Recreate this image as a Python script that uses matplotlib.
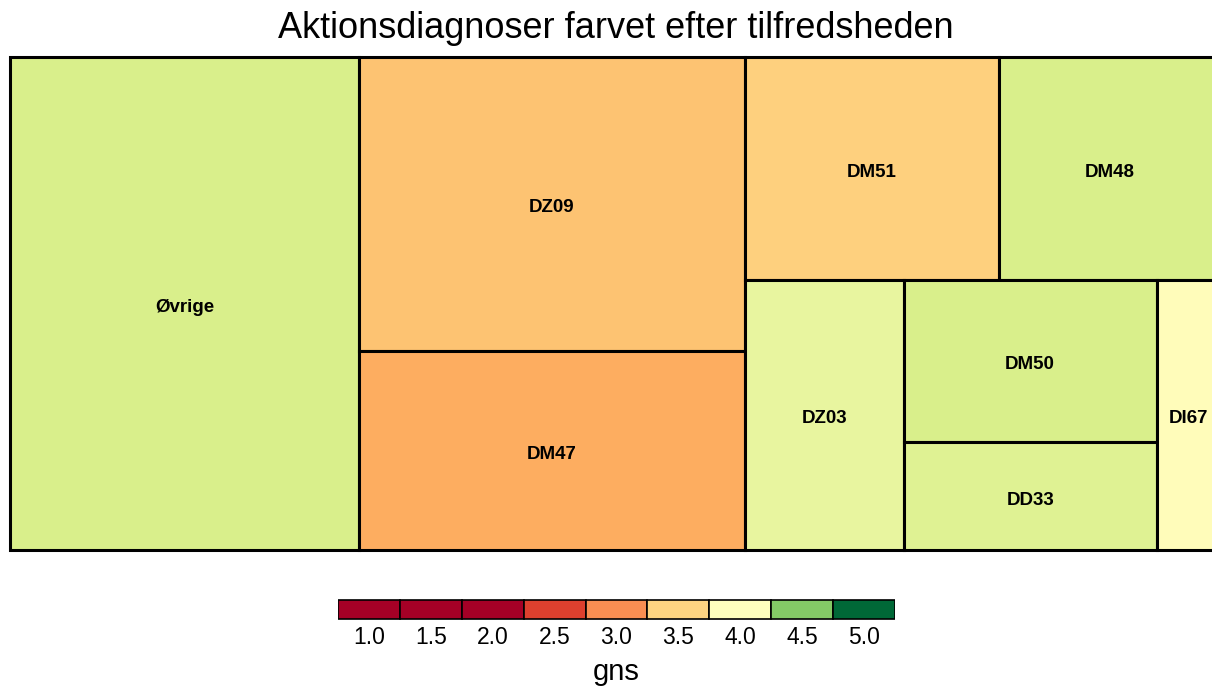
import numpy as np
import matplotlib.pyplot as plt
from matplotlib.colors import TwoSlopeNorm
from matplotlib.patches import Rectangle

plt.rcParams['font.family'] = ['Liberation Sans', 'DejaVu Sans']

# data: antal (size) og gennemsnitlig tilfredshed (gns)
labels = ['Øvrige', 'DZ09', 'DM47', 'DM51', 'DM48', 'DZ03', 'DM50', 'DD33', 'DI67']
antal = [574, 378, 256, 189, 164, 143, 137, 91, 57]
gns = [4.20, 3.36, 3.20, 3.47, 4.20, 4.12, 4.20, 4.17, 3.96]
legend_vals = [1.0, 1.5, 2.0, 2.5, 3.0, 3.5, 4.0, 4.5, 5.0]

cmap = plt.get_cmap('RdYlGn')
norm = TwoSlopeNorm(vmin=2.0, vcenter=4.0, vmax=5.0)


def aspect(w, h):
    return max(w / h, h / w)


def pivot_layout(areas, x, y, w, h, out):
    # pivot-by-size layout (items sorted by size, pivot = first item)
    if len(areas) == 0:
        return
    if len(areas) == 1:
        out.append((x, y, w, h))
        return
    p = areas[0]
    rest = areas[1:]
    wide = w >= h
    best_k, best_r = 0, None
    for k in range(len(rest)):
        a2 = p + sum(rest[:k])
        if wide:
            cw = a2 / h
            r = aspect(cw, p / cw)
        else:
            ch = a2 / w
            r = aspect(p / ch, ch)
        if best_r is None or r < best_r:
            best_k, best_r = k, r
    r2 = rest[:best_k]
    r3 = rest[best_k:]
    a2 = p + sum(r2)
    if wide:
        cw = a2 / h
        ph = p / cw
        out.append((x, y + h - ph, cw, ph))
        pivot_layout(r2, x, y, cw, h - ph, out)
        pivot_layout(r3, x + cw, y, w - cw, h, out)
    else:
        ch = a2 / w
        pw = p / ch
        out.append((x, y + h - ch, pw, ch))
        pivot_layout(r2, x + pw, y + h - ch, w - pw, ch, out)
        pivot_layout(r3, x, y, w, h - ch, out)


W, H = 1210.0, 493.0
tot = float(sum(antal))
areas = [a / tot * W * H for a in antal]
rects = []
pivot_layout(areas, 0, 0, W, H, rects)

fig = plt.figure(figsize=(12.12, 6.87), dpi=100)
ax = fig.add_axes([10 / 1212, 137 / 687, W / 1212, H / 687])
ax.set_xlim(0, W)
ax.set_ylim(0, H)
ax.axis('off')
for (rx, ry, rw, rh), lab, g in zip(rects, labels, gns):
    ax.add_patch(Rectangle((rx, ry), rw, rh, facecolor=cmap(norm(g)),
                           edgecolor='black', linewidth=2.2, clip_on=False))
    ax.text(rx + rw / 2, ry + rh / 2 - 4, lab, ha='center', va='center',
            fontsize=13.5, fontweight='bold')

fig.text(616 / 1212, 1 - 28 / 687, 'Aktionsdiagnoser farvet efter tilfredsheden',
         ha='center', va='center', fontsize=26)

# legend
lax = fig.add_axes([338 / 1212, 0, 557 / 1212, 1])
lax.set_xlim(0, len(legend_vals))
lax.set_ylim(0, 687)
lax.axis('off')
for i, v in enumerate(legend_vals):
    lax.add_patch(Rectangle((i, 687 - 619), 1, 19, facecolor=cmap(norm(v)),
                            edgecolor='black', linewidth=1.2))
    lax.text(i + 0.5, 687 - 637, '%.1f' % v, ha='center', va='center',
             fontsize=16.5)
lax.text(len(legend_vals) / 2, 687 - 672, 'gns', ha='center', va='center',
         fontsize=21)

fig.savefig('out.png', dpi=100)
